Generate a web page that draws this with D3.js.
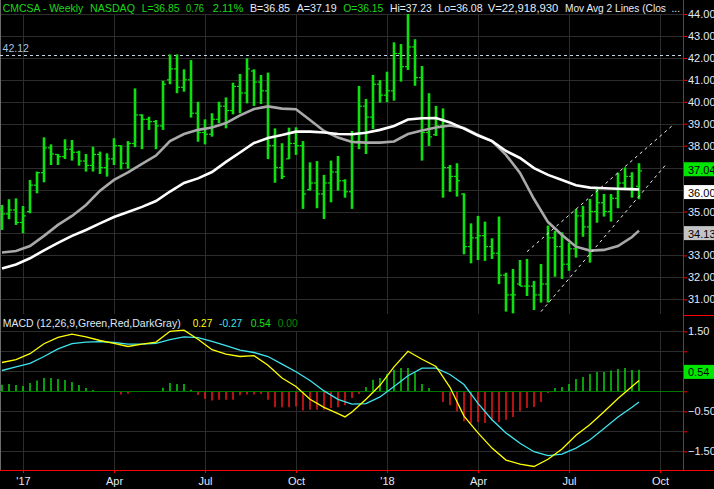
<!DOCTYPE html>
<html><head><meta charset="utf-8">
<script src="https://cdn.jsdelivr.net/npm/d3@7"></script>
<style>
html,body{margin:0;padding:0;background:#000;}
svg{display:block;}
text{font-family:"Liberation Sans",Arial,sans-serif;}
</style></head><body>
<svg id="c" width="714" height="489"></svg>
<script>
// ---------- DATA ----------
const firstWeek = Date.UTC(2016, 11, 12);
const lastWeekEnd = Date.UTC(2018, 8, 11);
const highs = [35.30,35.56,35.60,35.25,36.44,36.82,38.38,38.06,37.62,38.29,
  38.26,37.77,37.62,37.95,37.73,37.65,38.34,38.02,38.21,40.61,
  39.43,39.32,39.17,40.96,42.16,42.16,41.48,41.90,40.00,39.20,
  39.48,40.00,40.20,40.87,41.27,41.98,41.48,41.22,41.33,38.79,
  38.11,38.82,38.84,38.21,37.24,37.30,36.67,37.32,37.53,36.47,
  38.67,40.72,40.13,41.22,40.99,41.37,42.71,42.63,44.00,42.85,
  41.63,40.39,39.81,39.70,37.12,37.20,35.83,34.46,34.80,34.54,
  33.78,34.77,32.21,32.38,32.79,32.84,31.84,32.61,34.36,34.11,
  34.05,33.58,35.12,35.25,35.57,36.06,35.80,35.80,36.77,37.01,
  36.79,37.20];
const lows = [34.16,34.65,34.39,34.01,34.92,35.83,36.33,37.12,37.12,37.39,
  37.32,37.09,36.82,36.82,36.71,36.59,37.12,36.92,36.95,37.93,
  37.84,38.72,37.84,38.72,40.80,40.39,40.46,39.28,38.18,38.06,
  38.41,39.02,38.79,39.43,39.48,39.93,39.81,39.90,37.39,36.31,
  36.48,37.39,37.58,35.12,35.95,35.15,34.66,35.42,35.95,35.63,
  35.12,37.84,37.62,38.76,39.96,39.98,40.05,40.92,41.45,40.73,
  37.32,37.99,38.44,35.63,35.90,35.68,33.05,32.64,32.79,32.75,
  32.84,31.69,30.44,30.36,31.61,31.15,30.51,30.85,30.85,32.03,
  31.93,32.30,32.90,33.85,32.67,34.49,34.77,34.54,35.15,36.01,
  35.63,35.56];
const opens = [35.10,34.89,35.07,34.50,35.00,36.20,36.77,37.90,37.60,37.50,
  37.84,37.70,37.30,37.10,37.60,37.00,37.40,38.00,37.20,38.10,
  39.40,39.20,39.10,38.90,41.00,41.50,40.66,41.00,39.48,38.60,
  38.52,39.20,39.80,39.60,40.70,40.40,41.40,40.90,40.50,38.00,
  37.00,37.40,38.10,38.00,36.00,36.30,35.80,36.30,36.80,36.40,
  35.90,38.20,39.80,39.30,40.80,40.30,40.50,42.20,41.60,42.50,
  41.10,38.60,38.50,38.90,37.00,36.60,35.80,33.40,33.80,33.90,
  33.40,33.10,32.10,31.20,31.70,31.60,31.60,31.20,31.70,33.80,
  33.40,32.60,33.30,34.80,34.30,35.00,35.40,35.00,35.60,36.30,
  36.60,36.15];
const closes = [34.89,35.07,34.50,34.80,36.20,36.77,37.90,37.62,37.50,37.84,
  37.70,37.30,37.10,37.60,37.00,37.40,38.00,37.20,38.10,39.40,
  39.20,39.10,38.90,40.80,41.50,40.66,41.00,39.48,38.60,38.52,
  39.20,39.80,39.60,40.70,40.40,41.50,40.90,40.50,38.00,37.00,
  36.60,38.10,38.00,35.80,36.30,35.80,36.30,36.80,36.40,35.90,
  38.20,39.80,39.30,40.80,40.30,40.50,42.20,41.60,42.50,41.10,
  38.60,38.40,38.90,37.00,36.60,36.40,33.40,33.80,33.90,33.40,
  33.10,32.10,31.20,31.20,31.60,31.60,31.20,31.70,33.80,33.40,
  32.60,33.30,34.80,34.30,35.00,35.40,35.00,35.60,36.30,36.60,
  36.00,36.85];

// moving averages read at these bar indices
const maBars = [0,2,4,6,8,10,12,14,16,18,20,22,24,26,28,30,32,34,36,38,40,42,44,46,48,50,
  52,54,56,58,60,62,64,66,68,70,72,74,76,78,80,82,84,86,88,90,91];
const grayMA = [33.13,33.20,33.43,33.89,34.39,34.80,35.30,35.95,36.44,36.78,
  37.17,37.55,38.21,38.53,38.72,38.83,39.03,39.38,39.67,39.79,
  39.69,39.66,39.17,38.67,38.37,38.17,38.14,38.14,38.19,38.53,
  38.69,38.83,38.92,38.81,38.49,38.21,37.58,36.76,35.57,34.52,
  33.93,33.40,33.22,33.25,33.43,33.84,34.13];
const whiteMA = [32.40,32.59,32.87,33.23,33.57,33.89,34.16,34.46,34.75,34.98,
  35.21,35.48,35.91,36.30,36.51,36.80,37.26,37.69,38.12,38.35,
  38.49,38.64,38.64,38.60,38.53,38.52,38.59,38.72,38.90,39.19,
  39.25,39.26,39.06,38.78,38.46,38.21,37.76,37.44,36.98,36.67,
  36.44,36.20,36.09,36.06,36.04,36.02,36.00];

// MACD
const macdBars = [0,2,4,6,8,10,12,14,16,18,20,22,24,26,28,30,32,34,36,38,40,42,44,46,48,49,50,
  52,54,56,58,60,62,64,66,68,70,72,74,76,78,80,82,84,86,88,90,91];
const macdLine = [0.72,0.79,0.94,1.19,1.35,1.43,1.36,1.27,1.20,1.12,
  1.18,1.23,1.50,1.53,1.30,1.04,0.93,0.87,0.89,0.65,
  0.33,0.12,-0.20,-0.40,-0.56,-0.64,-0.52,-0.20,0.15,0.61,1.00,
  0.80,0.62,0.10,-0.62,-1.04,-1.42,-1.72,-1.82,-1.88,-1.70,
  -1.44,-1.10,-0.83,-0.51,-0.18,0.12,0.27];
const signalLine = [0.52,0.61,0.70,0.87,1.06,1.19,1.23,1.24,1.22,1.18,
  1.18,1.20,1.29,1.36,1.34,1.25,1.14,1.03,0.97,0.87,
  0.68,0.49,0.27,0.01,-0.20,-0.32,-0.31,-0.14,0.12,0.39,
  0.58,0.58,0.42,0.17,-0.30,-0.71,-1.04,-1.30,-1.51,-1.61,
  -1.57,-1.42,-1.21,-0.93,-0.64,-0.40,-0.27];
const histogram = [0.165,0.18,0.16,0.13,0.21,0.27,0.33,0.33,0.31,0.28,
  0.23,0.16,0.08,0.03,0.01,-0.005,-0.01,-0.08,-0.06,0.00,
  0.01,0.01,-0.005,0.09,0.21,0.18,0.18,0.04,-0.09,-0.19,
  -0.23,-0.21,-0.21,-0.21,-0.10,-0.08,-0.08,-0.07,-0.21,-0.40,
  -0.40,-0.40,-0.38,-0.48,-0.46,-0.46,-0.46,-0.42,-0.40,-0.35,
  -0.17,-0.07,0.11,0.29,0.33,0.43,0.54,0.58,0.58,0.47,
  0.18,0.08,0.005,-0.27,-0.35,-0.50,-0.75,-0.79,-0.77,-0.79,
  -0.73,-0.77,-0.71,-0.64,-0.50,-0.42,-0.39,-0.27,-0.04,0.08,
  0.11,0.18,0.31,0.36,0.43,0.48,0.48,0.52,0.56,0.58,
  0.53,0.54];

// trend channel (date, price)
const channelUpper = [["2018-05-21",33.17],["2018-10-14",38.94]];
const channelLower = [["2018-06-04",30.44],["2018-10-06",37.09]];
const resistance = 42.12;

// axes
const priceTicks = [31,32,33,34,35,36,37,38,39,40,41,42,43,44];
const macdTicks = [-1.5,-1,-0.5,0,0.5,1,1.5];
const macdLabelTicks = [1.5,0.5,-0.5,-1.5];
const dateTicks = ["2017-01-02","2017-04-03","2017-07-03","2017-10-02","2018-01-01","2018-04-02","2018-07-02","2018-10-01"];
const dateTickLabels = ["'17","Apr","Jul","Oct","'18","Apr","Jul","Oct"];
const priceBoxes = [{v:37.04,bg:"#00e600"},{v:36.00,bg:"#ffffff"},{v:34.13,bg:"#c4c4c4"}];
const macdBoxes = [{v:0.54,bg:"#00e600"}];
const headerItems = [
  {x:2.7,w:80.6,t:"CMCSA - Weekly",c:"g"},{x:90,w:45,t:"NASDAQ",c:"g"},
  {x:141.7,w:37.7,t:"L=36.85",c:"g"},{x:186,w:18,t:"0.76",c:"g"},
  {x:212.7,w:30.7,t:"2.11%",c:"g"},{x:250,w:40,t:"B=36.85",c:"w"},
  {x:296.7,w:40,t:"A=37.19",c:"w"},{x:343.3,w:40,t:"O=36.15",c:"g"},
  {x:390,w:41.7,t:"Hi=37.23",c:"w"},{x:438.3,w:44.3,t:"Lo=36.08",c:"w"},
  {x:487.7,w:70.7,t:"V=22,918,930",c:"w"},
  {x:565,w:115,t:"Mov Avg 2 Lines (Clos\u00a0\u00a0...",c:"w"}];
const macdHeader = [
  {x:2.7,w:178,t:"MACD (12,26,9,Green,Red,DarkGray)",c:"#dfe7f5"},
  {x:192.7,w:19.6,t:"0.27",c:"#ffff00"},{x:219,w:23.3,t:"-0.27",c:"#3fe4ee"},
  {x:250.7,w:20,t:"0.54",c:"#19e019"},{x:277.7,w:20,t:"0.00",c:"#008c00"}];

// ---------- DRAW ----------
const svg = d3.select("#c");
const W = 714, AX = 683;
const GREEN = "#0ee00e", RED = "#ff1a1a", GRID = "#2c2c2c", LIGHT = "#e2e9f7";
svg.append("rect").attr("width",W).attr("height",489).attr("fill","#000");

const dates = d3.utcMonday.range(firstWeek, lastWeekEnd);
const x = d3.scaleUtc().domain([firstWeek, Date.UTC(2018,9,22)]).range([2, 681]);
const y = d3.scaleLinear().domain([31,44]).range([299.3,14]);
const ym = d3.scaleLinear().domain([-1.5,1.5]).range([451.3,331.3]);
const pd = s => new Date(s + "T00:00:00Z");

// gridlines
const grid = svg.append("g").attr("stroke",GRID).attr("stroke-width",1).attr("shape-rendering","crispEdges");
priceTicks.forEach(p => grid.append("line").attr("x1",0).attr("x2",AX).attr("y1",Math.round(y(p))+0.5).attr("y2",Math.round(y(p))+0.5));
macdTicks.filter(v=>v!==0).forEach(v => grid.append("line").attr("x1",0).attr("x2",AX).attr("y1",Math.round(ym(v))+0.5).attr("y2",Math.round(ym(v))+0.5));
dateTicks.forEach(d => {
  const xx = Math.round(x(pd(d)))+0.5;
  grid.append("line").attr("x1",xx).attr("x2",xx).attr("y1",14).attr("y2",314);
  grid.append("line").attr("x1",xx).attr("x2",xx).attr("y1",331).attr("y2",470);
});

// left border
svg.append("line").attr("x1",0.5).attr("x2",0.5).attr("y1",0).attr("y2",470).attr("stroke","#6c6c6c");

// resistance dashed line + label
svg.append("line").attr("x1",0).attr("x2",AX).attr("y1",Math.round(y(resistance))+0.5).attr("y2",Math.round(y(resistance))+0.5)
  .attr("stroke","#c9d6e6").attr("stroke-dasharray","3,3").attr("shape-rendering","crispEdges");
svg.append("text").attr("x",2.5).attr("y",51.7).attr("fill","#a9c3e3").attr("font-size",11.5)
  .attr("textLength",26.5).attr("lengthAdjust","spacingAndGlyphs").text(resistance.toFixed(2));

// price bars (HLC + open)
const bars = svg.append("g").attr("stroke",GREEN);
dates.forEach((d,i) => {
  const cx = x(d);
  bars.append("line").attr("x1",cx).attr("x2",cx).attr("y1",y(highs[i])).attr("y2",y(lows[i])).attr("stroke-width",2.6);
  bars.append("line").attr("x1",cx-3).attr("x2",cx).attr("y1",y(opens[i])).attr("y2",y(opens[i])).attr("stroke-width",1.2);
  bars.append("line").attr("x1",cx).attr("x2",cx+3).attr("y1",y(closes[i])).attr("y2",y(closes[i])).attr("stroke-width",1.2);
});

// moving averages
const maLine = d3.line().x(d=>x(dates[d[0]])).y(d=>y(d[1]));
svg.append("path").attr("d",maLine(maBars.map((b,i)=>[b,grayMA[i]]))).attr("fill","none").attr("stroke","#a9a9a9").attr("stroke-width",2.6);
svg.append("path").attr("d",maLine(maBars.map((b,i)=>[b,whiteMA[i]]))).attr("fill","none").attr("stroke","#ffffff").attr("stroke-width",2.6);

// channel lines
[channelUpper, channelLower].forEach(c => {
  svg.append("line").attr("x1",x(pd(c[0][0]))).attr("y1",y(c[0][1])).attr("x2",x(pd(c[1][0]))).attr("y2",y(c[1][1]))
    .attr("stroke","#f0f0f0").attr("stroke-width",1).attr("stroke-dasharray","3,3.5");
});

// MACD histogram
const hg = svg.append("g");
dates.forEach((d,i) => {
  const v = histogram[i];
  const cx = x(d);
  hg.append("line").attr("x1",cx).attr("x2",cx).attr("y1",ym(0)).attr("y2",ym(v))
    .attr("stroke", v >= 0 ? GREEN : RED).attr("stroke-width",1.4);
});
svg.append("line").attr("x1",0).attr("x2",AX).attr("y1",Math.round(ym(0))+0.5).attr("y2",Math.round(ym(0))+0.5)
  .attr("stroke","#007800").attr("shape-rendering","crispEdges");

const mLine = d3.line().x(d=>x(dates[d[0]])).y(d=>ym(d[1]));
svg.append("path").attr("d",mLine(maBars.map((b,i)=>[b,signalLine[i]]))).attr("fill","none").attr("stroke","#3fe4ee").attr("stroke-width",1.3);
svg.append("path").attr("d",mLine(macdBars.map((b,i)=>[b,macdLine[i]]))).attr("fill","none").attr("stroke","#ffff00").attr("stroke-width",1.3);

// axes (labels hidden where a value box covers them)
function covered(scale, v, boxes){ return boxes.some(b => Math.abs(scale(b.v) - scale(v)) < 11); }
function styleAxis(g){
  g.select(".domain").remove();
  g.selectAll(".tick line").attr("stroke","#ff0000");
  g.selectAll(".tick text").attr("fill",LIGHT).attr("font-size",11).attr("font-family","'Liberation Sans',Arial,sans-serif");
}
svg.append("g").attr("transform",`translate(${AX},0)`)
  .call(d3.axisRight(y).tickValues(priceTicks).tickSize(4).tickPadding(1)
    .tickFormat(d => covered(y,d,priceBoxes) ? "" : d3.format(".2f")(d))).call(styleAxis);
svg.append("g").attr("transform",`translate(${AX},0)`)
  .call(d3.axisRight(ym).tickValues(macdTicks).tickSize(4).tickPadding(1)
    .tickFormat(d => (macdLabelTicks.includes(d) && !covered(ym,d,macdBoxes)) ? d3.format(".2f")(d) : "")).call(styleAxis);
svg.append("g").attr("transform","translate(0,470)")
  .call(d3.axisBottom(x).tickValues(dateTicks.map(pd)).tickSize(3).tickPadding(4).tickFormat((d,i)=>dateTickLabels[i])).call(styleAxis);

// red frame lines
svg.append("line").attr("x1",AX+0.5).attr("x2",AX+0.5).attr("y1",0).attr("y2",470).attr("stroke","#ff0000");
svg.append("line").attr("x1",0).attr("x2",W).attr("y1",470.5).attr("y2",470.5).attr("stroke","#ff0000");
svg.append("line").attr("x1",AX).attr("x2",W).attr("y1",315.5).attr("y2",315.5).attr("stroke","#ff0000");

// value boxes
function box(yy, v, bg){
  svg.append("rect").attr("x",AX+1).attr("y",yy-6).attr("width",W-AX-1).attr("height",14).attr("fill",bg);
  svg.append("text").attr("x",AX+5).attr("y",yy+5.5).attr("fill","#000").attr("font-size",11).text(v.toFixed(2));
}
priceBoxes.forEach(b => box(y(b.v)+1.5, b.v, b.bg));
macdBoxes.forEach(b => box(ym(b.v)+1.2, b.v, b.bg));

// header text
headerItems.forEach(h => {
  svg.append("text").attr("x",h.x).attr("y",12.4).attr("font-size",11.5)
    .attr("fill", h.c === "g" ? "#19d819" : "#e6edf9")
    .attr("textLength",h.w).attr("lengthAdjust","spacingAndGlyphs").text(h.t);
});
macdHeader.forEach(h => {
  svg.append("text").attr("x",h.x).attr("y",327.4).attr("font-size",11.5).attr("fill",h.c)
    .attr("textLength",h.w).attr("lengthAdjust","spacingAndGlyphs").text(h.t);
});
</script>
</body></html>
